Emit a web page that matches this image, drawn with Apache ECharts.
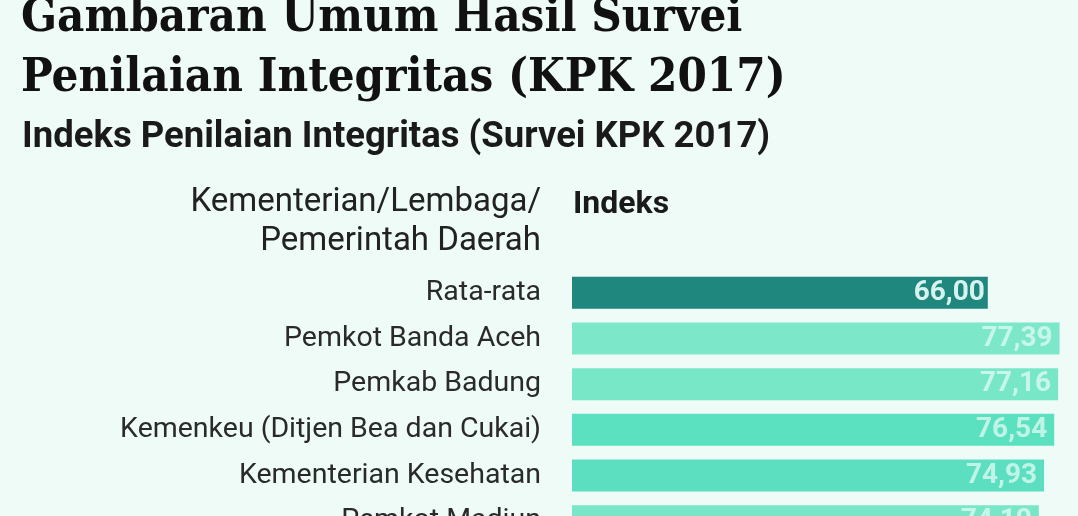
<!DOCTYPE html>
<html>
<head>
<meta charset="utf-8">
<script src="https://cdn.jsdelivr.net/npm/echarts@6/dist/echarts.min.js"></script>
<style>
html,body{margin:0;padding:0;background:#eefbf7;}
#c{width:1078px;height:516px;}
</style>
</head>
<body>
<div id="c"></div>
<script>
const categories = ['Rata-rata', 'Pemkot Banda Aceh', 'Pemkab Badung', 'Kemenkeu (Ditjen Bea dan Cukai)', 'Kementerian Kesehatan', 'Pemkot Madiun'];
const values = [66.00, 77.39, 77.16, 76.54, 74.93, 74.10];
const barColors = ['#1f877e', '#7ce8c9', '#78e7c8', '#5be0c0', '#5cdfc1', '#7ae6c8'];
const labelColors = ['#d6f3ee', '#c8f6ea', '#c8f6ea', '#c0f4e6', '#c0f4e6', '#c8f6ea'];
const titleLines = 'Gambaran Umum Hasil Survei\nPenilaian Integritas (KPK 2017)';
const subtitle = 'Indeks Penilaian Integritas (Survei KPK 2017)';
const catHeader1 = 'Kementerian/Lembaga/';
const catHeader2 = 'Pemerintah Daerah';
const valHeader = 'Indeks';

const chart = echarts.init(document.getElementById('c'));
chart.setOption({
  backgroundColor: '#eefbf7',
  animation: false,
  title: [
    { text: titleLines, left: 21, top: -11, padding: 0,
      textStyle: { fontFamily: 'DejaVu Serif Condensed', fontWeight: 'bold', fontSize: 47, lineHeight: 60, color: '#111' } },
    { text: subtitle, left: 22, top: 119, padding: 0,
      textStyle: { fontFamily: 'Roboto', fontWeight: 'bold', fontSize: 36.5, color: '#1a1a1a' } },
    { text: catHeader1, right: 537, top: 186, padding: 0,
      textStyle: { fontFamily: 'Roboto', fontWeight: 'normal', fontSize: 33, color: '#222' } },
    { text: catHeader2, right: 537, top: 225, padding: 0,
      textStyle: { fontFamily: 'Roboto', fontWeight: 'normal', fontSize: 33, color: '#222' } },
    { text: valHeader, left: 573, top: 189, padding: 0,
      textStyle: { fontFamily: 'Roboto', fontWeight: 'bold', fontSize: 32, color: '#1a1a1a' } }
  ],
  grid: { left: 572, right: 2, top: 270, height: 274, containLabel: false, outerBoundsMode: 'none' },
  xAxis: { type: 'value', min: 0, max: 80, show: false },
  yAxis: {
    type: 'category', data: categories, inverse: true,
    axisLine: { show: false }, axisTick: { show: false }, splitLine: { show: false },
    axisLabel: { margin: 31, fontFamily: 'Roboto', fontSize: 28.5, color: '#2a2a2a' }
  },
  series: [{
    type: 'bar', barWidth: 32,
    data: values.map((v, i) => ({ value: v, itemStyle: { color: barColors[i] },
      label: { color: labelColors[i], offset: [i === 0 ? 2 : -2, 0] } })),
    label: { show: true, position: 'insideRight', fontFamily: 'Roboto', fontWeight: 'bold', fontSize: 28,
      formatter: p => p.value.toFixed(2).replace('.', ',') }
  }]
});
</script>
</body>
</html>
